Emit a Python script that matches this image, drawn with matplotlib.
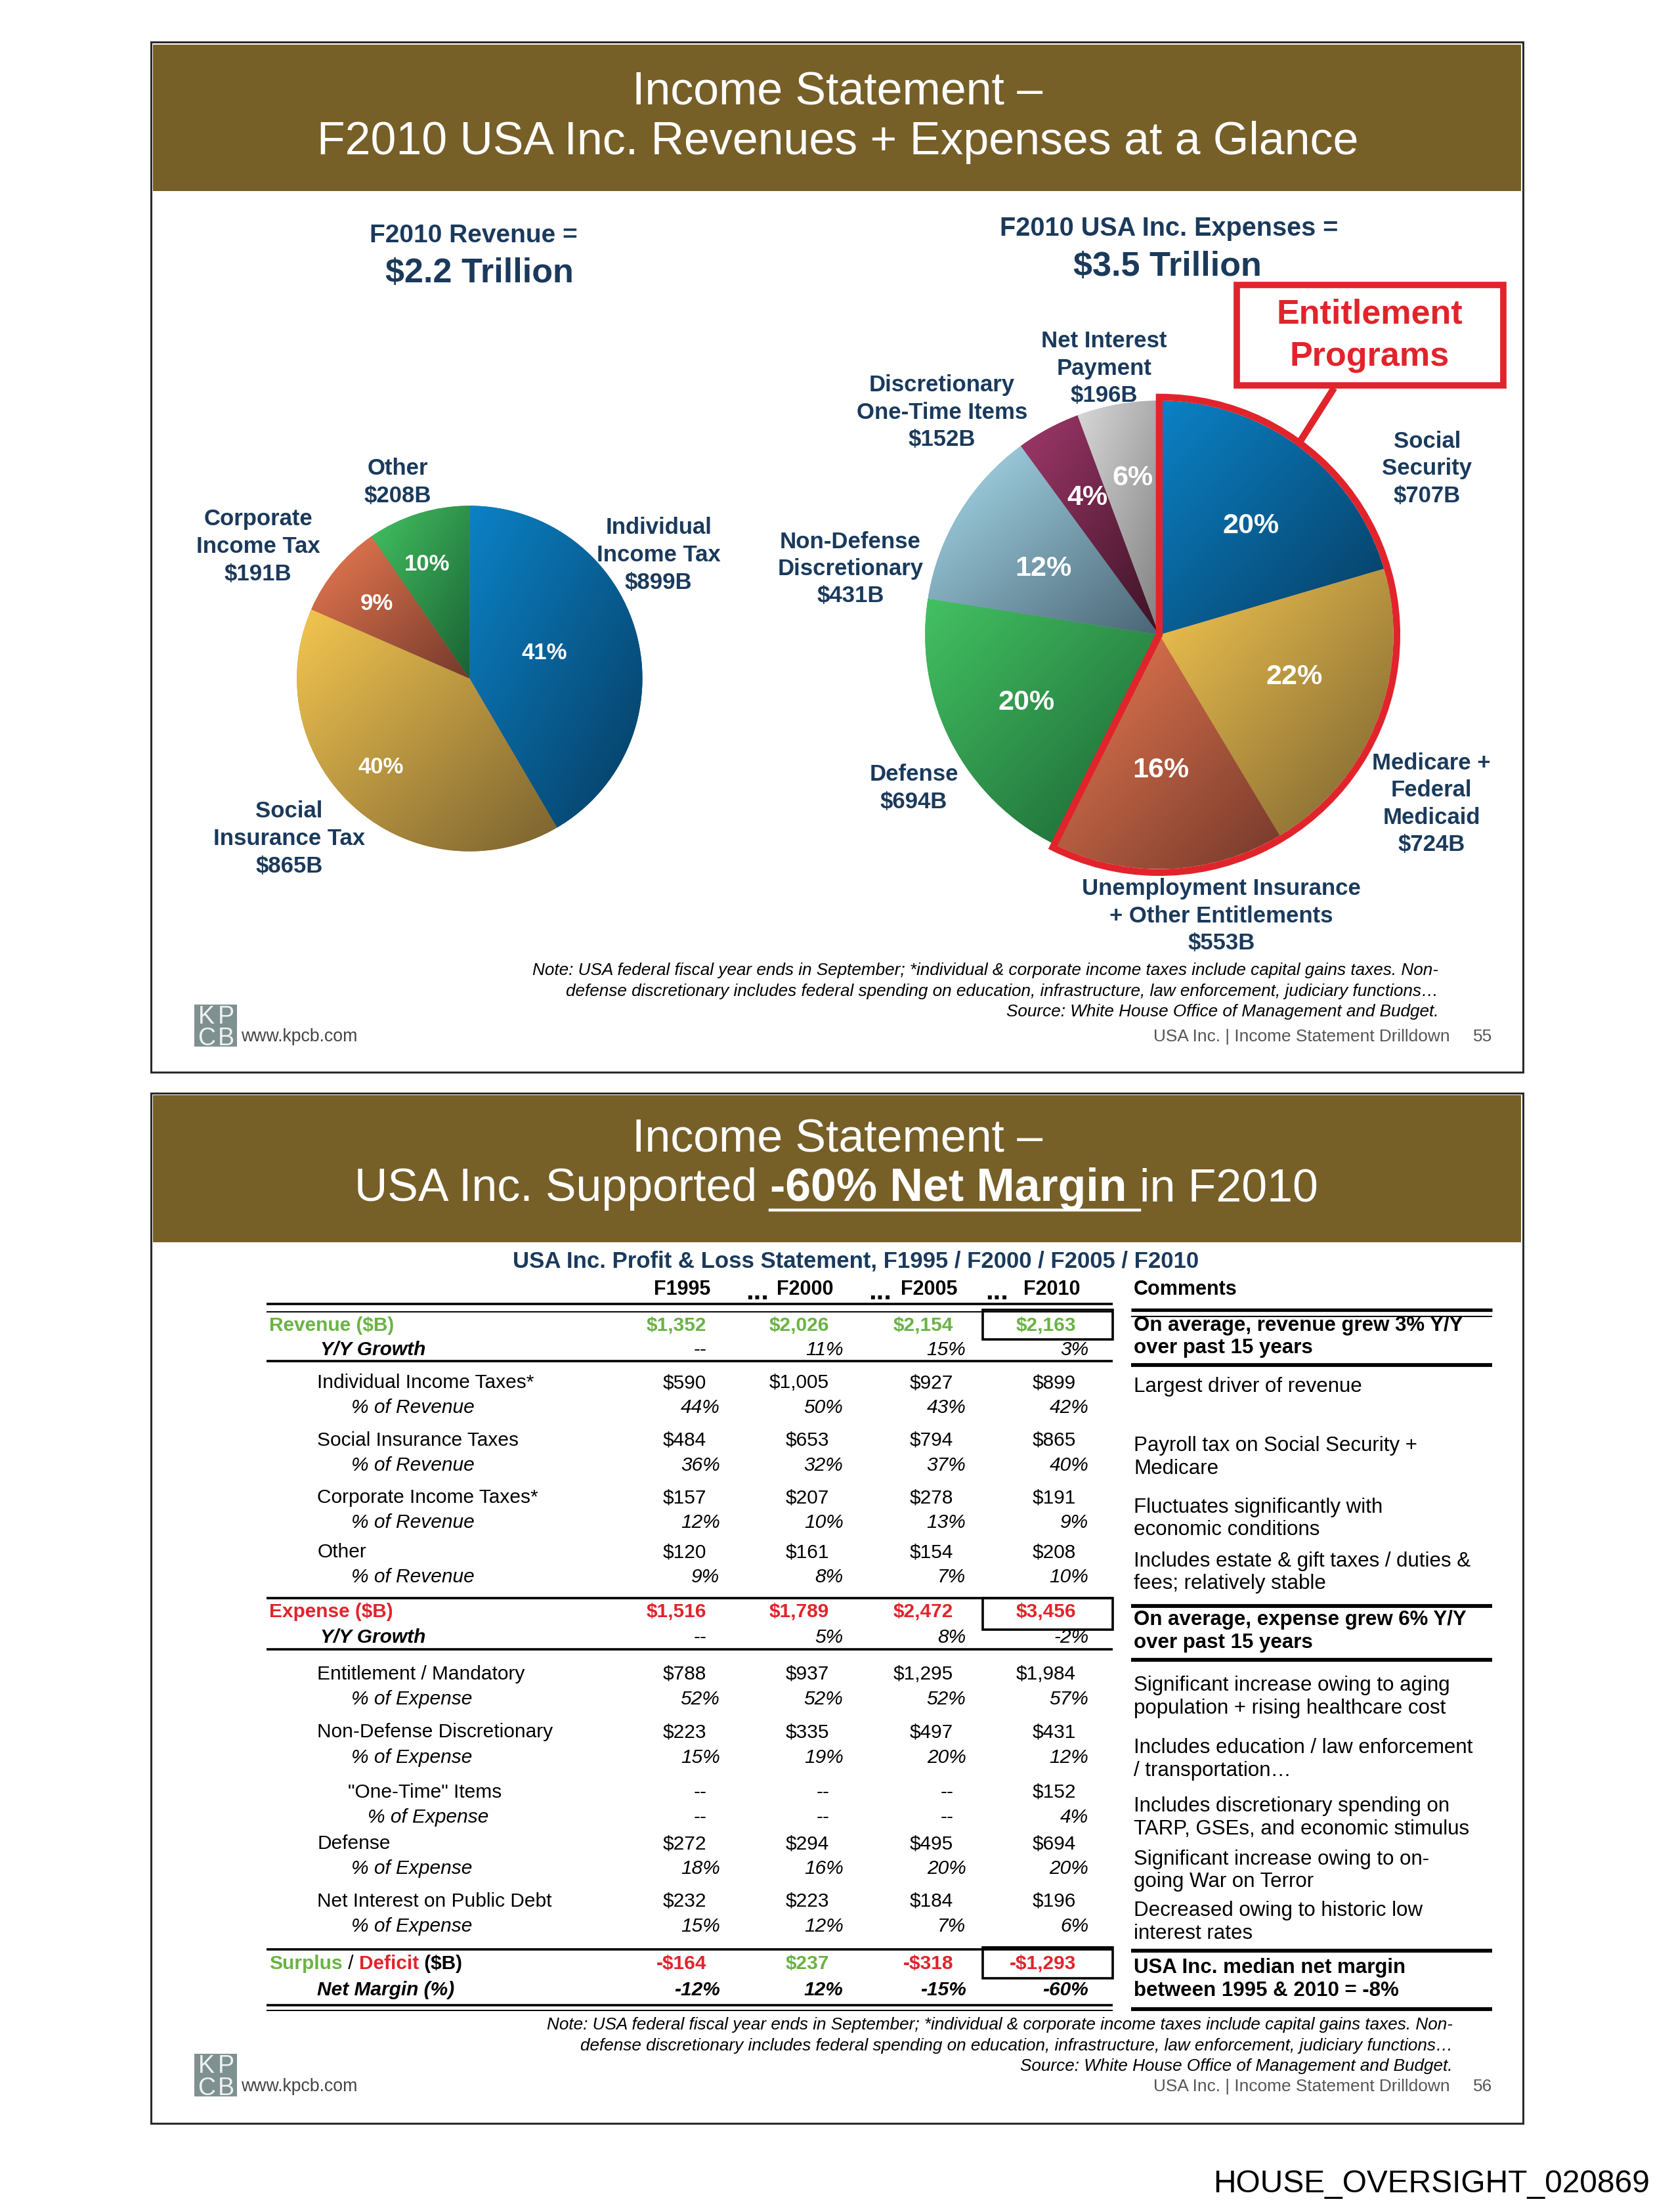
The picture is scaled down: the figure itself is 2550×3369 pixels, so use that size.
import numpy as np
import matplotlib
matplotlib.use("Agg")
import matplotlib.pyplot as plt
from matplotlib.patches import Rectangle, Wedge
from matplotlib.colors import to_rgb

# ---------------- data: revenue pie ----------------
rev_names = ["Individual\nIncome Tax", "Social\nInsurance Tax", "Corporate\nIncome Tax", "Other"]
rev_values = [899, 865, 191, 208]
rev_pct = [41, 40, 9, 10]

# ---------------- data: expense pie ----------------
exp_names = ["Social\nSecurity", "Medicare +\nFederal\nMedicaid",
             "Unemployment Insurance\n+ Other Entitlements", "Defense",
             "Non-Defense\nDiscretionary", "Discretionary\nOne-Time Items",
             "Net Interest\nPayment"]
exp_values = [707, 724, 553, 694, 431, 152, 196]
exp_pct = [20, 22, 16, 20, 12, 4, 6]
n_entitlement = 3

# ---------------- data: P&L table ----------------
years = ["F1995", "F2000", "F2005", "F2010"]
revenue = [1352, 2026, 2154, 2163]
revenue_growth = [None, 11, 15, 3]
indiv_tax = [590, 1005, 927, 899]
indiv_tax_pct = [44, 50, 43, 42]
social_tax = [484, 653, 794, 865]
social_tax_pct = [36, 32, 37, 40]
corp_tax = [157, 207, 278, 191]
corp_tax_pct = [12, 10, 13, 9]
other_rev = [120, 161, 154, 208]
other_rev_pct = [9, 8, 7, 10]
expense = [1516, 1789, 2472, 3456]
expense_growth = [None, 5, 8, -2]
entitlement = [788, 937, 1295, 1984]
entitlement_pct = [52, 52, 52, 57]
nondefense = [223, 335, 497, 431]
nondefense_pct = [15, 19, 20, 12]
onetime = [None, None, None, 152]
onetime_pct = [None, None, None, 4]
defense = [272, 294, 495, 694]
defense_pct = [18, 16, 20, 20]
interest = [232, 223, 184, 196]
interest_pct = [15, 12, 7, 6]
surplus = [-164, 237, -318, -1293]
net_margin = [-12, 12, -15, -60]

comments = [
    (["On average, revenue grew 3% Y/Y", "over past 15 years"], 939.5, True),
    (["Largest driver of revenue"], 983, False),
    (["Payroll tax on Social Security +", "Medicare"], 1025, False),
    (["Fluctuates significantly with", "economic conditions"], 1068.4, False),
    (["Includes estate & gift taxes / duties &", "fees; relatively stable"], 1106.6, False),
    (["On average, expense grew 6% Y/Y", "over past 15 years"], 1148.3, True),
    (["Significant increase owing to aging", "population + rising healthcare cost"], 1194.9, False),
    (["Includes education / law enforcement", "/ transportation\u2026"], 1239, False),
    (["Includes discretionary spending on", "TARP, GSEs, and economic stimulus"], 1280.5, False),
    (["Significant increase owing to on-", "going War on Terror"], 1317.9, False),
    (["Decreased owing to historic low", "interest rates"], 1354.4, False),
    (["USA Inc. median net margin", "between 1995 & 2010 = -8%"], 1395, True),
]

note_lines = ["Note: USA federal fiscal year ends in September; *individual & corporate income taxes include capital gains taxes. Non-",
              "defense discretionary includes federal spending on education, infrastructure, law enforcement, judiciary functions\u2026",
              "Source: White House Office of Management and Budget."]

# ---------------- figure / styles ----------------
W, H = 2550, 3369
DPI = 100
XW, YH = 1187, 1568
fig = plt.figure(figsize=(W / DPI, H / DPI), dpi=DPI)
ov = fig.add_axes([0, 0, 1, 1])
ov.set_xlim(0, XW)
ov.set_ylim(YH, 0)
ov.axis("off")
SX, SY = W / XW, H / YH

FONT = "Liberation Sans"
NAVY = "#1A3A5C"
BROWN = "#775F28"
GREEN = "#6AB344"
RED = "#E1242B"
GRAY = "#555555"


def txt(x, y, s, size, color="black", ha="left", weight="normal", style="normal", va="center", ax=None, **kw):
    a = ov if ax is None else ax
    return a.text(x, y, s, fontsize=size, color=color, ha=ha, va=va, fontweight=weight,
                  fontstyle=style, family=FONT, **kw)


def mlines(x, y0, lines, size, step, **kw):
    for i, ln in enumerate(lines):
        txt(x, y0 + i * step, ln, size, **kw)


# ---------------- slide frames ----------------
for (y0, y1) in [(30, 760), (775, 1505)]:
    ov.add_patch(Rectangle((107, y0), 973, y1 - y0, fc="white", ec="#2B2B2B", lw=2.2, zorder=1))
    ov.add_patch(Rectangle((108.5, y0 + 1.5), 970, 104, fc=BROWN, ec="none", zorder=2))

# ---------------- slide 1 ----------------
TITLE = 50.3
txt(594, 66, "Income Statement \u2013", TITLE, "white", ha="center", zorder=3)
txt(594, 101, "F2010 USA Inc. Revenues + Expenses at a Glance", TITLE, "white", ha="center", zorder=3)

txt(336, 167, "F2010 Revenue =", 28, NAVY, ha="center", weight="bold", zorder=3)
txt(340, 194, "${:.1f} Trillion".format(sum(rev_values) / 1000), 37.5, NAVY, ha="center", weight="bold", zorder=3)
txt(829, 162, "F2010 USA Inc. Expenses =", 28.5, NAVY, ha="center", weight="bold", zorder=3)
txt(828, 189, "${:.1f} Trillion".format(sum(exp_values) / 1000), 37.5, NAVY, ha="center", weight="bold", zorder=3)


def pie_axes(cx, cy, R):
    rpx = R * SX
    ax = fig.add_axes([(cx * SX - rpx) / W, (H - cy * SY - rpx) / H, 2 * rpx / W, 2 * rpx / H])
    return ax


def draw_pie(ax, values, lights, darks):
    wedges, _ = ax.pie(values, startangle=90, counterclock=False, radius=1,
                       wedgeprops=dict(linewidth=0))
    gx, gy = np.meshgrid(np.linspace(0, 1, 240), np.linspace(0, 1, 240))
    t = (0.5 * (gx + gy))[..., None]
    for w, lc, dc in zip(wedges, lights, darks):
        lc = np.array(to_rgb(lc))
        dc = np.array(to_rgb(dc))
        w.set_facecolor((lc + dc) / 2)
        angs = np.radians(np.linspace(w.theta1, w.theta2, 120))
        xs = np.concatenate([[0], w.r * np.cos(angs)])
        ys = np.concatenate([[0], w.r * np.sin(angs)])
        img = lc[None, None, :] * (1 - t) + dc[None, None, :] * t
        im = ax.imshow(img, extent=(xs.min(), xs.max(), ys.min(), ys.max()), origin="upper",
                       aspect="auto", interpolation="bilinear", zorder=w.get_zorder() + 0.1)
        im.set_clip_path(w)
    ax.set_xlim(-1, 1)
    ax.set_ylim(-1, 1)
    ax.set_aspect("auto")
    ax.axis("off")
    return wedges


def pct_labels(ax, cx, cy, R, pcts, positions, size):
    for p, (x, y) in zip(pcts, positions):
        ax.text((x - cx) / R, -(y - cy) * SY / (R * SX), "{}%".format(p), fontsize=size, color="white",
                fontweight="bold", family=FONT, ha="center", va="center", zorder=20)


LIGHT = ["#0B82C6", "#F4C650", "#EC7B52", "#43C262", "#A9DDED", "#A0386B", "#D8D8D8"]
DARK = ["#063C62", "#7A6230", "#74392B", "#1A6233", "#4A6575", "#3B1325", "#808080"]

# revenue pie
RCX, RCY, RR = 333, 481, 122.5
axL = pie_axes(RCX, RCY, RR)
draw_pie(axL, rev_values, LIGHT[:4], DARK[:4])
pct_labels(axL, RCX, RCY, RR, rev_pct, [(386, 463), (270, 544), (267, 428), (303, 400)], 25)

rev_label_pos = [(467, 374), (205, 575), (183, 368), (282, 332)]
for name, v, (x, y) in zip(rev_names, rev_values, rev_label_pos):
    mlines(x, y, name.split("\n") + ["${}B".format(v)], 25, 19.6, color=NAVY, ha="center", weight="bold")

# expense pie
ECX, ECY, ER = 822, 450, 166
axR = pie_axes(ECX, ECY, ER)
draw_pie(axR, exp_values, LIGHT, DARK)
pct_labels(axR, ECX, ECY, ER, exp_pct,
           [(887, 373), (918, 480), (823, 546), (728, 498), (740, 403), (771, 353), (803, 339)], 31)
frac = sum(exp_values[:n_entitlement]) / sum(exp_values)
axR.add_patch(Wedge((0, 0), 1.015, 90 - 360 * frac, 90, fill=False, ec=RED, lw=7.5,
                    clip_on=False, zorder=30, joinstyle="miter"))

exp_label_pos = [(1012, 313), (1015, 541), (866, 630), (648, 549), (603, 384), (668, 273), (783, 242)]
for name, v, (x, y) in zip(exp_names, exp_values, exp_label_pos):
    mlines(x, y, name.split("\n") + ["${}B".format(v)], 25, 19.3, color=NAVY, ha="center", weight="bold")

# entitlement call-out
ov.add_patch(Rectangle((877, 202), 189, 71, fc="white", ec=RED, lw=7, zorder=5, joinstyle="miter"))
mlines(971, 223, ["Entitlement", "Programs"], 37.5, 30, color=RED, ha="center", weight="bold", zorder=6)
ov.plot([946, 918], [275, 319], color=RED, lw=7.5, solid_capstyle="butt", zorder=5)


# notes / footer
def notes(xr, y0):
    for i, ln in enumerate(note_lines):
        txt(xr, y0 + i * 14.7, ln, 18.8, "black", ha="right", style="italic", zorder=3)


def footer(y, page):
    ov.add_patch(Rectangle((138, y - 23), 30, 30, fc="#7F9090", ec="none", zorder=3))
    for ch, dx, dy in [("K", 146.5, -9.5), ("P", 160.5, -9.5), ("C", 146.5, 6), ("B", 160.5, 6)]:
        txt(dx, y + dy, ch, 27, "#EEF2F2", ha="center", va="baseline", zorder=4)
    txt(171, y, "www.kpcb.com", 19.2, "#444444", zorder=3)
    txt(1028, y, "USA Inc. | Income Statement Drilldown", 18.9, GRAY, ha="right", zorder=3)
    txt(1058, y, str(page), 18.9, GRAY, ha="right", zorder=3)


notes(1020, 688)
footer(735, 55)

# ---------------- slide 2 header ----------------
txt(594, 808, "Income Statement \u2013", TITLE, "white", ha="center", zorder=3)
renderer = fig.canvas.get_renderer()


def wid(s, size, weight="normal", style="normal"):
    t = txt(0, 0, s, size, weight=weight, style=style)
    w = t.get_window_extent(renderer=renderer).width / SX
    t.remove()
    return w


p1, p2, p3 = "USA Inc. Supported", "-60% Net Margin", "in F2010"
w1, w2, w3 = wid(p1, TITLE), wid(p2, TITLE, "bold"), wid(p3, TITLE)
sp = wid("a a", TITLE) - wid("aa", TITLE)
spb = wid("a a", TITLE, "bold") - wid("aa", TITLE, "bold")
x0 = 593 - (w1 + sp + w2 + spb + w3) / 2
txt(x0, 843, p1, TITLE, "white", zorder=3)
txt(x0 + w1 + sp, 843, p2, TITLE, "white", weight="bold", zorder=3)
txt(x0 + w1 + sp + w2 + spb, 843, p3, TITLE, "white", zorder=3)
ov.plot([x0 + w1 + sp, x0 + w1 + sp + w2 + spb], [858, 858], color="white", lw=3.2, zorder=3)

# ---------------- table ----------------
TS = 21.5
VX = [501, 588, 676, 763]
PX = [510.5, 598, 685, 772]
txt(607, 894, "USA Inc. Profit & Loss Statement, F1995 / F2000 / F2005 / F2010", 25, NAVY,
    ha="center", weight="bold")
for i, yv in enumerate(years):
    txt(VX[i] + 3, 914, yv, 22, ha="right", weight="bold")
for xd in [537, 624, 707]:
    txt(xd, 921, "...", 30, ha="center", va="baseline", weight="bold")
txt(804, 914, "Comments", 22, weight="bold")


def money(v):
    if v is None:
        return "--"
    return "-${:,}".format(-v) if v < 0 else "${:,}".format(v)


def pct(v):
    return "--" if v is None else "{}%".format(v)


def value_row(y, vals, kind, color="black", weight="normal", style="normal"):
    for i, v in enumerate(vals):
        if v is None:
            txt(VX[i], y, "--", TS, color, ha="right", weight=weight)
        elif kind == "money":
            txt(VX[i], y, money(v), TS, color, ha="right", weight=weight, style=style)
        else:
            txt(PX[i], y, pct(v), TS, color, ha="right", weight=weight, style=style)


# revenue block
txt(191, 939.5, "Revenue ($B)", TS, GREEN, weight="bold")
value_row(939.5, revenue, "money", GREEN, "bold")
txt(227, 957, "Y/Y Growth", TS, weight="bold", style="italic")
value_row(957, revenue_growth, "pct", style="italic")

rev_rows = [("Individual Income Taxes*", indiv_tax, indiv_tax_pct, 980.4),
            ("Social Insurance Taxes", social_tax, social_tax_pct, 1021),
            ("Corporate Income Taxes*", corp_tax, corp_tax_pct, 1061.8),
            ("Other", other_rev, other_rev_pct, 1100.4)]
for lab, vals, pcts, y in rev_rows:
    txt(225, y, lab, TS)
    value_row(y, vals, "money")
    txt(249, y + 17.6, "% of Revenue", TS, style="italic")
    value_row(y + 17.6, pcts, "pct", style="italic")

# expense block
txt(191, 1142.5, "Expense ($B)", TS, RED, weight="bold")
value_row(1142.5, expense, "money", RED, "bold")
txt(227, 1160.8, "Y/Y Growth", TS, weight="bold", style="italic")
value_row(1160.8, expense_growth, "pct", style="italic")

exp_rows = [("Entitlement / Mandatory", entitlement, entitlement_pct, 1186.6, 225, 249),
            ("Non-Defense Discretionary", nondefense, nondefense_pct, 1228, 225, 249),
            ("\"One-Time\" Items", onetime, onetime_pct, 1270.5, 246.5, 260.5),
            ("Defense", defense, defense_pct, 1307, 225, 249),
            ("Net Interest on Public Debt", interest, interest_pct, 1347.8, 225, 249)]
for lab, vals, pcts, y, lx, px in exp_rows:
    txt(lx, y, lab, TS)
    value_row(y, vals, "money")
    txt(px, y + 17.8, "% of Expense", TS, style="italic")
    value_row(y + 17.8, pcts, "pct", style="italic")

# surplus / deficit
xs = 191
for piece, col, wt in [("Surplus", GREEN, "bold"), (" / ", "black", "normal"),
                       ("Deficit", RED, "bold"), (" ($B)", "black", "bold")]:
    t = txt(xs, 1392, piece, TS, col, weight=wt)
    xs += t.get_window_extent(renderer=renderer).width / SX
for i, v in enumerate(surplus):
    txt(VX[i], 1392, money(v), TS, RED if v < 0 else GREEN, ha="right", weight="bold")
txt(225, 1410.8, "Net Margin (%)", TS, weight="bold", style="italic")
value_row(1410.8, net_margin, "pct", weight="bold", style="italic")

# rules
L0, L1, C0, C1 = 189, 789, 802, 1058
for y, lw in [(924.5, 2.6), (929.8, 1.4), (965, 2.6), (1132.6, 2.6), (1169.1, 2.6),
              (1381.7, 2.6), (1421.5, 2.6), (1425.3, 1.4)]:
    ov.plot([L0, L1], [y, y], color="black", lw=lw, solid_capstyle="butt", zorder=4)
for y, lw in [(928.5, 3.8), (933.3, 1.4), (967.5, 4.2), (1138.4, 4.2), (1176.6, 4.2),
              (1382.8, 4.2), (1424.2, 4.2)]:
    ov.plot([C0, C1], [y, y], color="black", lw=lw, solid_capstyle="butt", zorder=4)
for y0, y1 in [(928.3, 949.5), (1132.6, 1155), (1380.5, 1402.5)]:
    ov.add_patch(Rectangle((697, y0), 92, y1 - y0, fill=False, ec="black", lw=2.6, zorder=5))

# comments
for lines, y0, bold in comments:
    mlines(804, y0, lines, 22.5, 16.2, weight="bold" if bold else "normal")

notes(1030, 1435.5)
footer(1479, 56)

txt(1170, 1548, "HOUSE_OVERSIGHT_020869", 34.5, "black", ha="right")

fig.savefig("out.png", dpi=DPI)
